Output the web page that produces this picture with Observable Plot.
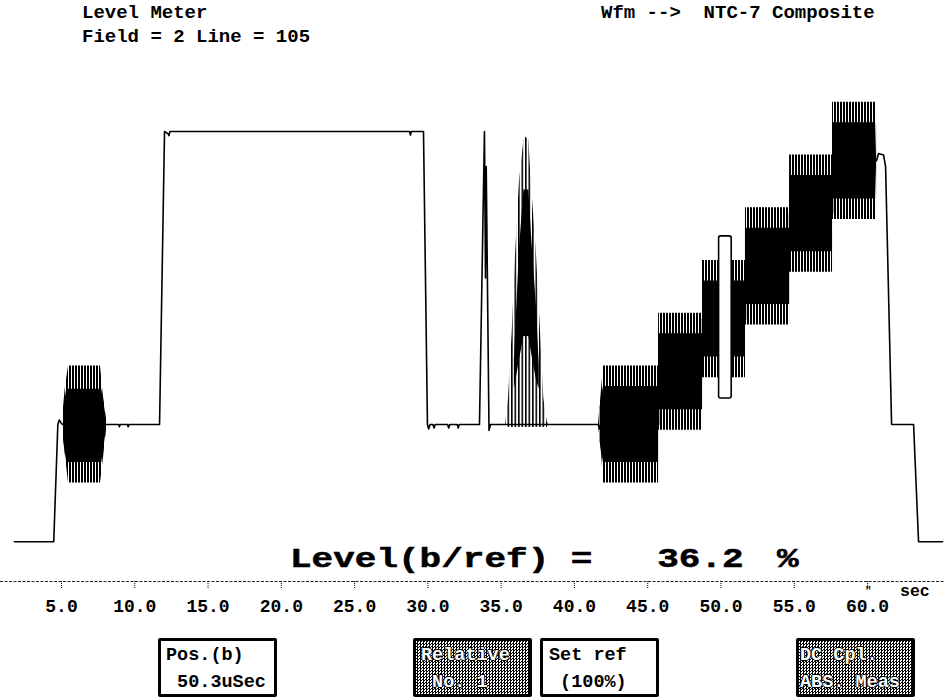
<!DOCTYPE html>
<html><head><meta charset="utf-8">
<script src="https://cdn.jsdelivr.net/npm/d3@7"></script>
<script src="https://cdn.jsdelivr.net/npm/@observablehq/plot@0.6"></script>
<style>
html,body{margin:0;padding:0;background:#fff;}
#wrap{position:relative;width:944px;height:698px;overflow:hidden;font-family:"Liberation Mono","DejaVu Sans Mono",monospace;font-weight:bold;color:#000;}
#wrap svg{position:absolute;left:0;top:0;}
.t{position:absolute;white-space:pre;line-height:1;}
.btn{position:absolute;box-sizing:border-box;border:3px solid #000;border-radius:2px;background:#fff;font-size:18.5px;line-height:27px;white-space:pre;height:59px;width:119px;top:638px;}
.hatch{background-color:#fff;background-image:repeating-conic-gradient(#000 0 25%,#fff 0 50%);background-size:3px 3px;color:#fff;text-shadow:-1px 0 #000,1px 0 #000,0 -1px #000,0 1px #000;}
</style></head>
<body>
<div id="wrap"></div>
<script>
// ---- data (time in µs, level in IRE) ----
const traceSamples = [
  [1.79,-40],[4.47,-40],[4.75,0],[4.85,1.5],[4.98,0.5],[5.07,0],[8.07,0],
  [8.9,0],[8.95,-0.8],[9.0,0],[9.5,0],[9.55,-0.8],[9.6,0],[11.69,0],
  [12.03,100],[12.28,99.2],[12.33,98.6],[12.4,100],[28.75,100],[28.81,98.8],[28.87,100],[29.70,100],
  [29.97,0],[30.05,-1.5],[30.15,0],[30.35,0],[30.42,-1.2],[30.5,0],[31.35,0],[31.42,-1.2],[31.5,0],
  [32.0,0],[32.07,-1.2],[32.14,0],[33.52,0],[33.86,100],[33.93,50],[33.98,88],[34.17,-2],[34.27,0],
  [35.30,0],[38.23,0],[41.64,0],[41.70,-1.5],[41.80,0],[45.74,0],[45.74,18],[48.74,18],[48.74,36],
  [51.67,36],[51.67,54],[54.68,54],[54.68,72],[57.61,72],[57.61,90],[60.61,90],[60.75,92.5],
  [61.09,92],[61.23,88],[61.64,0],[63.14,0],[63.48,-40],[65.12,-40]
];
// chroma packets: [t, low, high] of the outer envelope and of the dense core
const burstEnvelope = [[5.07,-2,2],[5.25,-10,12],[5.48,-20,20],[7.66,-20,20],[7.85,-12,10],[8.07,-2,2]];
const burstCore = [[5.15,-5,5],[5.35,-13,12],[7.75,-13,12],[8.0,-4,4]];
const pulseEnvelope = [[35.30,0,0],[35.50,-1,9],[35.75,-1,31],[35.98,-1,58],[36.25,-1,83],[36.55,-1,97],
  [36.70,-1,98],[36.89,-1,97],[37.05,-1,83],[37.41,-1,58],[37.69,-1,31],[37.91,-1,9],[38.14,-1,1],[38.23,0,0]];
const pulseCore = [[35.9,12,22],[36.25,22,60],[36.55,30,80],[36.89,30,80],[37.05,25,66],[37.41,15,40],[37.6,12,20]];
const stairEnvelope = [[41.64,0,0],[41.85,-10,12],[41.98,-20,20],[45.74,-20,20],[45.74,-2,38],[48.74,-2,38],
  [48.74,16,56],[51.67,16,56],[51.67,34,74],[54.68,34,74],[54.68,52,92],[57.61,52,92],[57.61,70,110],
  [60.61,70,110],[60.62,90,90]];
const stairCore = [[41.75,-6,6],[41.98,-13,13],[45.74,-13,13],[45.74,5,31],[48.74,5,31],[48.74,23,49],
  [51.67,23,49],[51.67,41,67],[54.68,41,67],[54.68,59,85],[57.61,59,85],[57.61,77,103],[60.55,77,103],[60.61,88,92]];
const cursorBox = [[50.3, 8.9, 64.2]];
const tickValues = [5,10,15,20,25,30,35,40,45,50,55,60];
const tickLabels = ["5.0","10.0","15.0","20.0","25.0","30.0","35.0","40.0","45.0","50.0","55.0","60.0"];
const headerLines = ["Level Meter","Field = 2 Line = 105"];
const waveformLabel = "Wfm -->  NTC-7 Composite";
const readoutLabel = "Level(b/ref) =   36.2";
const readoutUnit = "%";
const axisUnit = "sec";
const buttons = [
  {lines:["Pos.(b)"," 50.3uSec"], hatched:false},
  {lines:["Relative"," No. 1"], hatched:true},
  {lines:["Set ref"," (100%)"], hatched:false},
  {lines:["DC Cpl.","ABS. Meas"], hatched:true}
];

// ---- build tables ----
const trace = traceSamples.map(([t,v]) => ({t, v}));
const envelope = [
  ...burstEnvelope.map(([t,lo,hi]) => ({id:"burst", t, lo, hi})),
  ...stairEnvelope.map(([t,lo,hi]) => ({id:"stair", t, lo, hi}))
];
const pulseEnv = pulseEnvelope.map(([t,lo,hi]) => ({id:"pulse", t, lo, hi}));
const core = [
  ...burstCore.map(([t,lo,hi]) => ({id:"burst", t, lo, hi})),
  ...pulseCore.map(([t,lo,hi]) => ({id:"pulse", t, lo, hi})),
  ...stairCore.map(([t,lo,hi]) => ({id:"stair", t, lo, hi}))
];
const cursor = cursorBox.map(([t,lo,hi]) => ({t, lo, hi}));

const xDomain = [0.8376, 65.25];
const yDomain = [-53.58, 144.71];
const font = '"Liberation Mono","DejaVu Sans Mono",monospace';

const chart = Plot.plot({
  width: 944, height: 698,
  marginLeft: 0, marginRight: 0, marginTop: 0, marginBottom: 117,
  x: {domain: xDomain, label: null},
  y: {domain: yDomain, label: null, axis: null},
  style: {fontFamily: font, fontWeight: "bold", fontSize: "18px", background: "white", color: "black", overflow: "visible"},
  marks: [
    Plot.areaY(envelope, {x: "t", y1: "lo", y2: "hi", z: "id", fill: "url(#stripes)"}),
    Plot.areaY(pulseEnv, {x: "t", y1: "lo", y2: "hi", fill: "url(#sparse)"}),
    Plot.areaY(core, {x: "t", y1: "lo", y2: "hi", z: "id", fill: "black"}),
    Plot.line(trace, {x: "t", y: "v", stroke: "black", strokeWidth: 1.6}),
    Plot.rect(cursor, {x1: d => d.t - 0.43, x2: d => d.t + 0.43, y1: "lo", y2: "hi", fill: "white", stroke: "black", strokeWidth: 1.6, rx: 2}),
    Plot.ruleY([yDomain[0]], {stroke: "#222", strokeWidth: 1, strokeDasharray: "3,1.5"}),
    Plot.axisX(tickValues, {anchor: "bottom", tickSize: 8, tickPadding: 10, strokeDasharray: "1,1",
      tickFormat: d => tickLabels[tickValues.indexOf(d)], fontSize: 18, label: null})
  ]
});

const ns = "http://www.w3.org/2000/svg";
const defs = document.createElementNS(ns, "defs");
defs.innerHTML =
  '<pattern id="stripes" patternUnits="userSpaceOnUse" width="3" height="8"><rect width="2" height="8" fill="#000"/></pattern>' +
  '<pattern id="sparse" patternUnits="userSpaceOnUse" width="3.5" height="8"><rect width="1.6" height="8" fill="#000"/></pattern>';
chart.insertBefore(defs, chart.firstChild);

const wrap = document.getElementById("wrap");
wrap.appendChild(chart);

function addText(str, left, baseline, size, extra) {
  const d = document.createElement("div");
  d.className = "t";
  d.textContent = str;
  d.style.fontSize = size + "px";
  d.style.left = left + "px";
  d.style.top = (baseline - 0.7665 * size) + "px";
  if (extra) Object.assign(d.style, extra);
  wrap.appendChild(d);
  return d;
}
addText(headerLines[0], 82, 19, 19);
addText(headerLines[1], 82, 42.3, 19);
addText(waveformLabel, 601, 19, 19);
const squash = {transform: "scaleY(0.76)", transformOrigin: "0 76.65%", webkitTextStroke: "0.7px #000"};
addText(readoutLabel, 290, 568, 36, squash);
addText(readoutUnit, 777, 568, 36, squash);
addText(axisUnit, 900, 597, 16.5);
addText('"', 865, 594, 11);

const btnLeft = [158, 413, 540, 796];
const btnPad = [5, 5, 6, 1];
buttons.forEach((b, i) => {
  const d = document.createElement("div");
  d.className = "btn" + (b.hatched ? " hatch" : "");
  d.style.left = btnLeft[i] + "px";
  d.style.paddingLeft = btnPad[i] + "px";
  d.style.paddingTop = "0.6px";
  d.textContent = b.lines.join("\n");
  wrap.appendChild(d);
});
</script>
</body></html>
